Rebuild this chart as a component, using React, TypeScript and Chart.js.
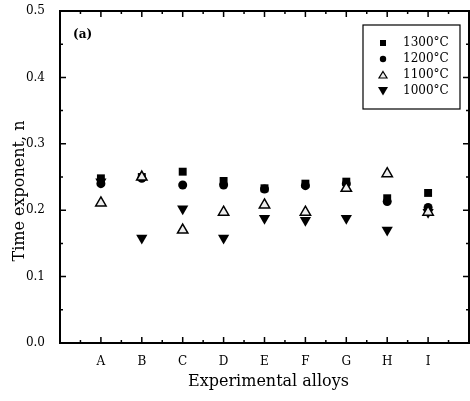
import React, { useEffect, useRef } from 'react';
import { Chart, registerables } from 'chart.js';

Chart.register(...registerables);

const categories = ['A', 'B', 'C', 'D', 'E', 'F', 'G', 'H', 'I'];
const seriesLabels = ['1300°C', '1200°C', '1100°C', '1000°C'];
const n1300 = [0.248, 0.25, 0.258, 0.244, 0.233, 0.24, 0.243, 0.218, 0.226];
const n1200 = [0.24, 0.248, 0.238, 0.238, 0.232, 0.237, 0.24, 0.213, 0.204];
const n1100 = [0.211, 0.25, 0.17, 0.197, 0.208, 0.197, 0.233, 0.255, 0.197];
const n1000 = [0.243, 0.158, 0.202, 0.158, 0.188, 0.185, 0.188, 0.17, 0.197];
const yTickValues = [0, 0.1, 0.2, 0.3, 0.4, 0.5];
const panelLabel = '(a)';
const xTitle = 'Experimental alloys';
const yTitle = 'Time exponent, n';

const FONT = '"DejaVu Serif", "Liberation Serif", serif';

const toPoints = (arr: number[]) => arr.map((v, i) => ({ x: i + 1, y: v }));

function drawMarker(ctx: CanvasRenderingContext2D, kind: string, x: number, y: number) {
  ctx.save();
  ctx.fillStyle = '#000';
  ctx.strokeStyle = '#000';
  ctx.lineWidth = 1.2;
  ctx.beginPath();
  if (kind === 'rect') {
    ctx.rect(x - 3, y - 3, 6, 6);
    ctx.fill();
  } else if (kind === 'circle') {
    ctx.arc(x, y, 3.2, 0, Math.PI * 2);
    ctx.fill();
  } else if (kind === 'up') {
    ctx.moveTo(x, y - 3.5);
    ctx.lineTo(x + 4, y + 3);
    ctx.lineTo(x - 4, y + 3);
    ctx.closePath();
    ctx.fillStyle = '#eee';
    ctx.fill();
    ctx.stroke();
  } else {
    ctx.moveTo(x - 5, y - 4);
    ctx.lineTo(x + 5, y - 4);
    ctx.lineTo(x, y + 4.5);
    ctx.closePath();
    ctx.fill();
  }
  ctx.restore();
}

const framePlugin = {
  id: 'framePlugin',
  afterDraw(chart: any) {
    const { ctx, chartArea } = chart;
    const { left, right, top, bottom } = chartArea;
    const xs = chart.scales.x;
    const ys = chart.scales.y;
    ctx.save();
    ctx.strokeStyle = '#000';
    ctx.lineWidth = 2;
    ctx.strokeRect(left, top, right - left, bottom - top);
    ctx.lineWidth = 1.5;
    ctx.beginPath();
    for (let k = 0; k <= 10; k++) {
      const py = ys.getPixelForValue(k * 0.05);
      const len = k % 2 === 0 ? 6 : 3;
      ctx.moveTo(left, py);
      ctx.lineTo(left + len, py);
      ctx.moveTo(right, py);
      ctx.lineTo(right - len, py);
    }
    for (let k = 1; k < 20; k++) {
      const px = xs.getPixelForValue(k * 0.5);
      const len = k % 2 === 0 ? 6 : 3;
      ctx.moveTo(px, bottom);
      ctx.lineTo(px, bottom - len);
      ctx.moveTo(px, top);
      ctx.lineTo(px, top + len);
    }
    ctx.stroke();

    ctx.fillStyle = '#000';
    ctx.font = `bold 12px ${FONT}`;
    ctx.textAlign = 'left';
    ctx.textBaseline = 'middle';
    ctx.fillText(panelLabel, left + 13, top + 24);

    const lx = 363, ly = 25, lw = 97, lh = 84;
    ctx.lineWidth = 1.2;
    ctx.strokeRect(lx, ly, lw, lh);
    const kinds = ['rect', 'circle', 'up', 'down'];
    ctx.font = `12px ${FONT}`;
    seriesLabels.forEach((lab, i) => {
      const ry = ly + 18 + i * 16;
      drawMarker(ctx, kinds[i], 383, ry);
      ctx.fillStyle = '#000';
      ctx.textAlign = 'left';
      ctx.textBaseline = 'middle';
      ctx.fillText(lab, 403, ry);
    });

    ctx.font = `16px ${FONT}`;
    ctx.textAlign = 'center';
    ctx.textBaseline = 'middle';
    ctx.fillText(xTitle, (left + right) / 2 + 4, 382);
    ctx.save();
    ctx.translate(20, 191);
    ctx.rotate(-Math.PI / 2);
    ctx.fillText(yTitle, 0, 0);
    ctx.restore();
    ctx.restore();
  },
};

export default function App() {
  const ref = useRef<HTMLCanvasElement | null>(null);
  useEffect(() => {
    document.body.style.margin = '0';
    const canvas = ref.current;
    if (!canvas) return;
    const common = { showLine: false, borderColor: '#000', backgroundColor: '#000' };
    const chart = new Chart(canvas, {
      type: 'scatter',
      data: {
        datasets: [
          { ...common, label: seriesLabels[0], data: toPoints(n1300), pointStyle: 'rect', pointRadius: 5.6, borderWidth: 0, order: 2 },
          { ...common, label: seriesLabels[1], data: toPoints(n1200), pointStyle: 'circle', pointRadius: 4.5, borderWidth: 0, order: 1 },
          { ...common, label: seriesLabels[2], data: toPoints(n1100), pointStyle: 'triangle', pointRadius: 6, backgroundColor: '#eeeeee', borderWidth: 1.5, order: 0 },
          { ...common, label: seriesLabels[3], data: toPoints(n1000), pointStyle: 'triangle', pointRotation: 180, pointRadius: 6.5, borderWidth: 0, order: 3 },
        ] as any,
      },
      options: {
        responsive: false,
        animation: false,
        layout: { autoPadding: false, padding: { left: 0, top: 11, right: 1, bottom: 0 } },
        plugins: { legend: { display: false }, tooltip: { enabled: false } },
        scales: {
          x: {
            type: 'linear',
            min: 0,
            max: 10,
            afterBuildTicks: (s: any) => {
              s.ticks = categories.map((_, i) => ({ value: i + 1 }));
            },
            afterFit: (s: any) => {
              s.height = 58;
              s.paddingLeft = 0;
              s.paddingRight = 0;
            },
            grid: { display: false },
            border: { display: false },
            ticks: {
              color: '#000',
              font: { family: FONT, size: 12 },
              padding: 4,
              maxRotation: 0,
              autoSkip: false,
              callback: (v: any) => categories[Number(v) - 1] ?? '',
            },
          },
          y: {
            type: 'linear',
            min: 0,
            max: 0.5,
            afterBuildTicks: (s: any) => {
              s.ticks = yTickValues.map((v) => ({ value: v }));
            },
            afterFit: (s: any) => {
              s.width = 60;
              s.paddingTop = 0;
              s.paddingBottom = 0;
            },
            grid: { display: false },
            border: { display: false },
            ticks: {
              color: '#000',
              font: { family: FONT, size: 12 },
              padding: 7,
              callback: (v: any) => Number(v).toFixed(1),
            },
          },
        },
      } as any,
      plugins: [framePlugin],
    });
    return () => chart.destroy();
  }, []);
  return (
    <div style={{ width: 470, height: 401 }}>
      <canvas ref={ref} width={470} height={401} style={{ display: 'block' }} />
    </div>
  );
}
